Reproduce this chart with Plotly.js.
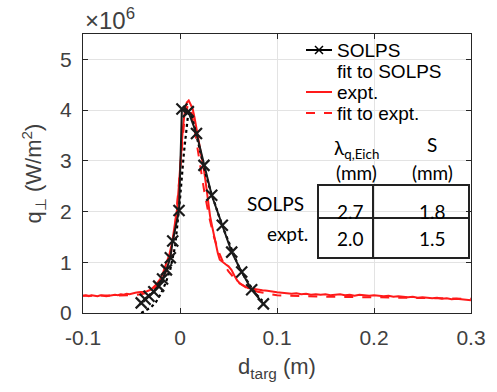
<!DOCTYPE html>
<html>
<head>
<meta charset="utf-8">
<script src="https://cdn.plot.ly/plotly-3.0.1.min.js"></script>
<style>html,body{margin:0;padding:0;background:#fff;}#chart{width:497px;height:392px;}</style>
</head>
<body>
<div id="chart"></div>
<script>
// SOLPS simulation (q in units of 1e6 W/m^2)
const solpsX = [-0.040, -0.036, -0.032, -0.027, -0.022, -0.018, -0.014, -0.010, -0.0075, -0.001, 0.002, 0.0086, 0.017, 0.0247, 0.0327, 0.0436, 0.0533, 0.0636, 0.0739, 0.086];
const solpsQ = [0.20, 0.27, 0.33, 0.42, 0.53, 0.67, 0.85, 1.09, 1.42, 2.02, 4.02, 3.97, 3.54, 2.91, 2.32, 1.73, 1.20, 0.81, 0.46, 0.18];

// Eich fit to SOLPS (dotted)
const fitSolpsX = [-0.040, -0.035, -0.030, -0.025, -0.020, -0.015, -0.010, -0.005, 0.000, 0.004, 0.008, 0.010, 0.012, 0.016, 0.020, 0.025, 0.030, 0.035, 0.040, 0.045, 0.050, 0.055, 0.060, 0.065, 0.070, 0.075, 0.080, 0.085];
const fitSolpsQ = [0.00, 0.05, 0.11, 0.21, 0.37, 0.58, 0.86, 1.32, 2.25, 3.15, 3.85, 3.95, 3.90, 3.58, 3.25, 2.85, 2.50, 2.20, 1.92, 1.65, 1.40, 1.15, 0.94, 0.76, 0.60, 0.46, 0.34, 0.24];

// Experiment
const exptX = [-0.100, -0.097, -0.094, -0.091, -0.088, -0.085, -0.082, -0.079, -0.076, -0.073, -0.070, -0.067, -0.064, -0.061, -0.058, -0.055, -0.052, -0.049, -0.046, -0.043, -0.040, -0.037, -0.034, -0.030, -0.025, -0.020, -0.017, -0.014, -0.011, -0.008, -0.005, -0.003, -0.001, 0.001, 0.003, 0.005, 0.007, 0.009, 0.011, 0.013, 0.015, 0.017, 0.019, 0.021, 0.023, 0.025, 0.027, 0.029, 0.031, 0.033, 0.035, 0.037, 0.039, 0.041, 0.044, 0.047, 0.050, 0.053, 0.056, 0.059, 0.062, 0.066, 0.070, 0.075, 0.080, 0.085, 0.090, 0.095, 0.100, 0.105, 0.110, 0.115, 0.120, 0.125, 0.130, 0.135, 0.140, 0.145, 0.150, 0.155, 0.160, 0.165, 0.170, 0.175, 0.180, 0.185, 0.190, 0.195, 0.200, 0.205, 0.210, 0.215, 0.220, 0.225, 0.230, 0.235, 0.240, 0.245, 0.250, 0.255, 0.260, 0.265, 0.270, 0.275, 0.280, 0.285, 0.290, 0.295, 0.300];
const exptQ = [0.34, 0.35, 0.33, 0.35, 0.34, 0.33, 0.35, 0.34, 0.33, 0.34, 0.35, 0.36, 0.35, 0.37, 0.36, 0.38, 0.37, 0.39, 0.40, 0.41, 0.41, 0.42, 0.43, 0.46, 0.55, 0.68, 0.82, 0.97, 1.15, 1.40, 1.75, 2.05, 2.55, 3.20, 3.65, 3.98, 4.15, 4.19, 4.12, 4.03, 3.85, 3.65, 3.43, 3.20, 3.00, 2.78, 2.50, 2.20, 1.91, 1.72, 1.53, 1.35, 1.18, 1.05, 1.00, 0.96, 0.92, 0.85, 0.74, 0.64, 0.58, 0.53, 0.49, 0.48, 0.46, 0.45, 0.44, 0.42, 0.41, 0.40, 0.39, 0.38, 0.39, 0.37, 0.38, 0.36, 0.37, 0.36, 0.37, 0.35, 0.36, 0.37, 0.35, 0.36, 0.34, 0.36, 0.35, 0.34, 0.35, 0.34, 0.33, 0.34, 0.32, 0.33, 0.32, 0.31, 0.32, 0.30, 0.31, 0.30, 0.29, 0.30, 0.28, 0.29, 0.27, 0.28, 0.27, 0.26, 0.25];

// Eich fit to experiment (dashed)
const fitExptX = [-0.100, -0.070, -0.050, -0.040, -0.030, -0.020, -0.015, -0.010, -0.005, 0.000, 0.004, 0.008, 0.012, 0.016, 0.020, 0.025, 0.030, 0.035, 0.040, 0.045, 0.050, 0.060, 0.070, 0.080, 0.100, 0.150, 0.200, 0.250, 0.300];
const fitExptQ = [0.34, 0.34, 0.35, 0.37, 0.42, 0.60, 0.80, 1.10, 1.70, 2.80, 3.70, 4.10, 3.95, 3.50, 3.00, 2.40, 1.90, 1.50, 1.20, 0.98, 0.82, 0.60, 0.48, 0.42, 0.35, 0.32, 0.31, 0.30, 0.28];

// Legend entries and table contents
const legendLabels = ["SOLPS", "fit to SOLPS", "expt.", "fit to expt."];
const tableHeader1 = ["λ<sub>q,Eich</sub>", "S"];
const tableHeader2 = ["(mm)", "(mm)"];
const tableRows = ["SOLPS", "expt."];
const lambdaVals = ["2.7", "2.0"];
const sVals = ["1.8", "1.5"];

const W = 497, H = 392, L = 83, R = 26, T = 34, B = 79;
const pw = W - L - R, ph = H - T - B;
const px = p => (p - L) / pw;
const py = p => (H - B - p) / ph;

const axisCol = '#262626';
const tickFont = {family: 'Liberation Sans, Arial, sans-serif', size: 21, color: '#404040'};
const tblFont = {family: 'Lato, sans-serif', size: 19, color: '#000'};
const legFont = {family: 'Liberation Sans, Arial, sans-serif', size: 19, color: '#000'};

const traces = [
  {x: fitExptX, y: fitExptQ, mode: 'lines', name: legendLabels[3], line: {color: '#ff1a1a', width: 2, dash: 'dash'}},
  {x: exptX, y: exptQ, mode: 'lines', name: legendLabels[2], line: {color: '#ff1a1a', width: 2}},
  {x: fitSolpsX, y: fitSolpsQ, mode: 'lines', name: legendLabels[1], line: {color: '#000', width: 2.2, dash: 'dot'}},
  {x: solpsX, y: solpsQ, mode: 'lines+markers', name: legendLabels[0], line: {color: '#1a1a1a', width: 2},
   marker: {symbol: 'x-thin', size: 11, line: {color: '#1a1a1a', width: 2.2}}}
];

const shapes = [];
const annotations = [];

// legend background
shapes.push({type: 'rect', xref: 'paper', yref: 'paper', x0: px(293), x1: px(470), y0: py(34), y1: py(128), fillcolor: '#fff', line: {width: 0}, layer: 'between'});
// header background (hides grid behind header text)
shapes.push({type: 'rect', xref: 'paper', yref: 'paper', x0: px(327), x1: px(460), y0: py(135), y1: py(183), fillcolor: '#fff', line: {width: 0}, layer: 'between'});

// legend samples
const rowsY = [50, 71, 92, 113];
shapes.push({type: 'line', xref: 'paper', yref: 'paper', x0: px(306), x1: px(332), y0: py(rowsY[0]), y1: py(rowsY[0]), line: {color: '#000', width: 2}});
shapes.push({type: 'path', xref: 'paper', yref: 'paper',
  path: `M ${px(315)} ${py(rowsY[0]-4)} L ${px(323)} ${py(rowsY[0]+4)} M ${px(315)} ${py(rowsY[0]+4)} L ${px(323)} ${py(rowsY[0]-4)}`,
  line: {color: '#000', width: 1.5}});
shapes.push({type: 'line', xref: 'paper', yref: 'paper', x0: px(306), x1: px(332), y0: py(rowsY[2]), y1: py(rowsY[2]), line: {color: '#ff1a1a', width: 2}});
shapes.push({type: 'line', xref: 'paper', yref: 'paper', x0: px(306), x1: px(332), y0: py(rowsY[3]), y1: py(rowsY[3]), line: {color: '#ff1a1a', width: 2, dash: 'dash'}});
legendLabels.forEach((t, i) => {
  annotations.push({xref: 'paper', yref: 'paper', x: px(335), y: py(rowsY[i]), xanchor: 'left', yanchor: 'middle', text: t, showarrow: false, font: legFont});
});

// table box
const tb = {l: 318, r: 469, t: 185, m: 218, b: 258, v: 373};
shapes.push({type: 'rect', xref: 'paper', yref: 'paper', x0: px(tb.l), x1: px(tb.r), y0: py(tb.t), y1: py(tb.b), line: {color: '#222', width: 2}});
shapes.push({type: 'line', xref: 'paper', yref: 'paper', x0: px(tb.l), x1: px(tb.r), y0: py(tb.m), y1: py(tb.m), line: {color: '#222', width: 2}});
shapes.push({type: 'line', xref: 'paper', yref: 'paper', x0: px(tb.v), x1: px(tb.v), y0: py(tb.t), y1: py(tb.b), line: {color: '#222', width: 2}});

const colX = [356, 432];
tableHeader1.forEach((t, i) => annotations.push({xref: 'paper', yref: 'paper', x: px(colX[i]), y: py(i === 0 ? 149 : 144), xanchor: 'center', yanchor: 'middle', text: t, showarrow: false, font: tblFont}));
tableHeader2.forEach((t, i) => annotations.push({xref: 'paper', yref: 'paper', x: px(colX[i]), y: py(172), xanchor: 'center', yanchor: 'middle', text: t, showarrow: false, font: tblFont}));
const rowY = [203, 233];
tableRows.forEach((t, i) => annotations.push({xref: 'paper', yref: 'paper', x: px(i === 0 ? 306 : 310), y: py(rowY[i]), xanchor: 'right', yanchor: 'middle', text: t, showarrow: false, font: tblFont}));
const valY = [211, 238];
lambdaVals.forEach((t, i) => annotations.push({xref: 'paper', yref: 'paper', x: px(colX[0] - 6), y: py(valY[i]), xanchor: 'center', yanchor: 'middle', text: t, showarrow: false, font: tblFont}));
sVals.forEach((t, i) => annotations.push({xref: 'paper', yref: 'paper', x: px(colX[1]), y: py(valY[i]), xanchor: 'center', yanchor: 'middle', text: t, showarrow: false, font: tblFont}));

// exponent label
annotations.push({xref: 'paper', yref: 'paper', x: px(83), y: py(19), xanchor: 'left', yanchor: 'middle', text: '×10<sup>6</sup>', showarrow: false,
  font: {family: 'Liberation Sans, Arial, sans-serif', size: 24, color: '#404040'}});

const layout = {
  width: W, height: H,
  margin: {l: L, r: R, t: T, b: B, pad: 0},
  paper_bgcolor: '#fff', plot_bgcolor: '#fff',
  showlegend: false,
  xaxis: {
    range: [-0.1, 0.3], tickvals: [-0.1, 0, 0.1, 0.2, 0.3], ticktext: ['-0.1', '0', '0.1', '0.2', '0.3'],
    ticks: 'inside', ticklen: 5, tickcolor: axisCol, showline: true, linecolor: axisCol, linewidth: 1, mirror: 'ticks',
    showgrid: true, gridcolor: '#e3e3e3', zeroline: false, tickfont: tickFont, ticklabelstandoff: 6,
    title: {text: 'd<sub>targ</sub> (m)', font: {family: 'Liberation Sans, Arial, sans-serif', size: 22, color: '#404040'}, standoff: 10}
  },
  yaxis: {
    range: [0, 5.5], tickvals: [0, 1, 2, 3, 4, 5],
    ticks: 'inside', ticklen: 5, tickcolor: axisCol, showline: true, linecolor: axisCol, linewidth: 1, mirror: 'ticks',
    showgrid: true, gridcolor: '#e3e3e3', zeroline: false, tickfont: tickFont, ticklabelstandoff: 6,
    title: {text: 'q<sub>⊥</sub> (W/m<sup>2</sup>)', font: {family: 'Liberation Sans, Arial, sans-serif', size: 22, color: '#404040'}, standoff: 12}
  },
  shapes: shapes,
  annotations: annotations
};

Plotly.newPlot('chart', traces, layout, {staticPlot: true, displayModeBar: false});
</script>
</body>
</html>
